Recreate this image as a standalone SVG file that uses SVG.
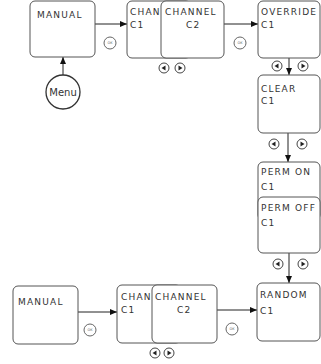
<svg xmlns="http://www.w3.org/2000/svg" width="321" height="364" viewBox="0 0 321 364">
<defs>
<style>
.box{fill:#fff;stroke:#555;stroke-width:1}
.t{font-family:"DejaVu Sans",sans-serif;font-size:9px;fill:#333;letter-spacing:1.2px}
.ln{stroke:#222;stroke-width:1;fill:none}
.ok{fill:#fff;stroke:#666;stroke-width:1}
.okt{font-family:"DejaVu Sans",sans-serif;font-size:3.5px;fill:#666;text-anchor:middle}
.nav{fill:#fff;stroke:#444;stroke-width:1}
.tri{fill:#222}
</style>
<marker id="ah" markerWidth="7" markerHeight="6" refX="7" refY="3" orient="auto" markerUnits="userSpaceOnUse">
<path d="M0,0 L7,3 L0,6 Z" fill="#111"/>
</marker>
<g id="navpair">
<circle class="nav" cx="0" cy="0" r="5"/>
<path class="tri" d="M-2.5,0 L1.5,-2.5 L1.5,2.5 Z"/>
</g>
<g id="navR">
<circle class="nav" cx="0" cy="0" r="5"/>
<path class="tri" d="M2.5,0 L-1.5,-2.5 L-1.5,2.5 Z"/>
</g>
<g id="okb">
<circle class="ok" cx="0" cy="0" r="6"/>
<text class="okt" x="0" y="1.3">OK</text>
</g>
</defs>

<g id="connectors">
<line class="ln" x1="95" y1="24" x2="127" y2="24" marker-end="url(#ah)"/>
<line class="ln" x1="63" y1="75" x2="63" y2="57" marker-end="url(#ah)"/>
<line class="ln" x1="224" y1="24" x2="258" y2="24" marker-end="url(#ah)"/>
<line class="ln" x1="289" y1="58" x2="289" y2="75" marker-end="url(#ah)"/>
<line class="ln" x1="288" y1="133" x2="288" y2="162" marker-end="url(#ah)"/>
<line class="ln" x1="289" y1="253" x2="289" y2="283" marker-end="url(#ah)"/>
<line class="ln" x1="78" y1="312" x2="117" y2="312" marker-end="url(#ah)"/>
<line class="ln" x1="217" y1="310" x2="257" y2="310" marker-end="url(#ah)"/>
</g>

<g id="ok-buttons">
<use href="#okb" x="110" y="43"/>
<use href="#okb" x="240" y="43"/>
<use href="#okb" x="90" y="330"/>
<use href="#okb" x="232" y="329"/>
</g>

<g id="nav-buttons">
<use href="#navpair" x="164" y="68"/><use href="#navR" x="180" y="68"/>
<use href="#navpair" x="277" y="66"/><use href="#navR" x="303" y="66"/>
<use href="#navpair" x="274" y="144"/><use href="#navR" x="302" y="144"/>
<use href="#navpair" x="278" y="264"/><use href="#navR" x="303" y="264"/>
<use href="#navpair" x="155" y="353"/><use href="#navR" x="169" y="353"/>
</g>

<g id="manual-top">
<rect class="box" x="30" y="1" width="65" height="56" rx="5"/>
<text class="t" x="37" y="18">MANUAL</text>
</g>
<g id="menu">
<circle cx="63" cy="92" r="17" fill="#fff" stroke="#333" stroke-width="1.3"/>
<text x="63" y="95.5" font-family="DejaVu Sans, sans-serif" font-size="10" fill="#333" text-anchor="middle">Menu</text>
</g>
<g id="channel-c1-top">
<rect class="box" x="127" y="1" width="64" height="57" rx="5"/>
<text class="t" x="130" y="15">CHAN</text>
<text class="t" x="130" y="28">C1</text>
</g>
<g id="channel-c2-top">
<rect class="box" x="161" y="1" width="63" height="57" rx="5"/>
<text class="t" x="165" y="15">CHANNEL</text>
<text class="t" x="186" y="28">C2</text>
</g>
<g id="override">
<rect class="box" x="258" y="1" width="62" height="57" rx="5"/>
<text class="t" x="261" y="15">OVERRIDE</text>
<text class="t" x="261" y="28">C1</text>
</g>
<g id="clear">
<rect class="box" x="258" y="75" width="62" height="58" rx="5"/>
<text class="t" x="261" y="92">CLEAR</text>
<text class="t" x="261" y="104">C1</text>
</g>
<g id="perm-on">
<rect class="box" x="258" y="162" width="62" height="58" rx="5"/>
<text class="t" x="261" y="175">PERM ON</text>
<text class="t" x="261" y="190">C1</text>
</g>
<g id="perm-off">
<rect class="box" x="258" y="197" width="62" height="56" rx="5"/>
<text class="t" x="261" y="211">PERM OFF</text>
<text class="t" x="261" y="226">C1</text>
</g>
<g id="random">
<rect class="box" x="257" y="283" width="63" height="58" rx="5"/>
<text class="t" x="260" y="298">RANDOM</text>
<text class="t" x="260" y="314">C1</text>
</g>
<g id="manual-bottom">
<rect class="box" x="13" y="286" width="65" height="58" rx="5"/>
<text class="t" x="18" y="305">MANUAL</text>
</g>
<g id="channel-c1-bottom">
<rect class="box" x="117" y="285" width="64" height="58" rx="5"/>
<text class="t" x="121" y="300">CHAN</text>
<text class="t" x="121" y="313">C1</text>
</g>
<g id="channel-c2-bottom">
<rect class="box" x="152" y="285" width="65" height="58" rx="5"/>
<text class="t" x="155" y="300">CHANNEL</text>
<text class="t" x="177" y="313">C2</text>
</g>
</svg>
